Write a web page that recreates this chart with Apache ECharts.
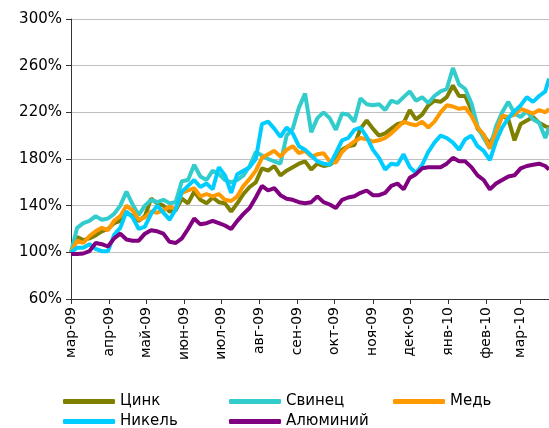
<!DOCTYPE html>
<html>
<head>
<meta charset="utf-8">
<script src="https://cdn.jsdelivr.net/npm/echarts@6/dist/echarts.min.js"></script>
<style>
  html, body { margin: 0; padding: 0; background: #fff; }
  #chart { width: 549px; height: 428px; }
</style>
</head>
<body>
<div id="chart"></div>
<script>
// days since 01.03.2009
const days = [0, 5, 10, 15, 20, 25, 30, 35, 40, 45, 50, 55, 60, 65, 70, 75, 80, 85, 90, 95,
    100, 105, 110, 115, 120, 125, 130, 135, 140, 145, 150, 155, 160, 165, 170, 175, 180, 185, 190, 195,
    200, 205, 210, 215, 220, 225, 230, 235, 240, 245, 250, 255, 260, 265, 270, 275, 280, 285, 290, 295,
    300, 305, 310, 315, 320, 325, 330, 335, 340, 345, 350, 355, 360, 365, 370, 375, 380, 385, 388]

const monthDays = [0, 31, 61, 92, 122, 153, 184, 214, 245, 275, 306, 337, 365]
const monthLabels = ['мар-09', 'апр-09', 'май-09', 'июн-09', 'июл-09', 'авг-09', 'сен-09',
    'окт-09', 'ноя-09', 'дек-09', 'янв-10', 'фев-10', 'мар-10']

const zinc = [100, 113, 110.5, 112, 114.5, 118, 120, 125, 127, 134, 131, 127, 131, 146, 142, 140, 135, 136, 146, 142,
    152, 145, 142, 147, 143, 142, 135, 142, 150, 156, 160, 172, 170, 174, 166, 170, 173, 176, 178, 171,
    176, 174, 175, 179, 188, 191, 192, 206, 213, 206, 200, 202, 206, 210, 211, 222, 214, 218, 226, 230,
    229, 233, 243, 234, 234, 222, 206, 200, 193, 204, 217, 214, 196, 210, 213, 216, 211, 208, 207]
const lead = [100, 121, 125, 127, 131, 128, 129, 133, 140, 152, 141, 132, 140, 145, 143, 145, 142, 143, 161, 162,
    175, 165, 162, 170, 167, 162, 160, 162, 166, 174, 186, 183, 180, 178, 176, 200, 206, 224, 236, 203,
    215, 220, 215, 205, 219, 218, 212, 232, 227, 226, 227, 222, 230, 228, 233, 238, 230, 233, 228, 234,
    238, 240, 258, 244, 240, 228, 208, 198, 189, 208, 220, 229, 219, 216, 221, 214, 211, 198, 207]
const copper = [100, 110, 108, 114, 118, 121, 119, 127, 131, 140, 136, 128, 130, 135, 134, 136, 139, 137, 151, 153,
    155, 148, 150, 148, 150, 145, 144, 148, 157, 163, 170, 181, 184, 187, 182, 188, 191, 185, 187, 182,
    184, 185, 178, 177, 186, 191, 195, 198, 197, 195, 196, 198, 202, 207, 212, 210, 209, 212, 207, 212,
    220, 226, 225, 223, 224, 217, 207, 201, 189, 203, 217, 216, 218, 223, 221, 219, 222, 220, 223]
const nickel = [100, 104, 104, 107, 103, 101, 101, 115, 121, 135, 130, 120, 122, 133, 140, 134, 128, 137, 152, 157,
    162, 156, 159, 154, 173, 166, 151, 167, 170, 173, 180, 210, 212, 206, 199, 207, 202, 191, 188, 183,
    178, 176, 175, 185, 196, 198, 205, 207, 199, 188, 181, 171, 176, 175, 184, 173, 168, 175, 186, 194,
    200, 198, 194, 188, 197, 200, 191, 187, 179, 195, 207, 215, 221, 226, 233, 229, 234, 238, 249]
const aluminium = [98.5, 98.5, 99, 101, 108, 107, 105, 112, 116, 111, 110, 110, 116, 119, 118, 116, 109, 108, 112, 120,
    129, 124, 125, 127, 125, 123, 120, 127, 133, 138, 147, 157, 153, 155, 149, 146, 145, 143, 142, 143,
    148, 143, 141, 138, 145, 147, 148, 151, 153, 149, 149, 151, 157, 159, 154, 164, 167, 172, 173, 173,
    173, 176, 181, 178, 178, 173, 166, 162, 154, 159, 162, 165, 166, 172, 174, 175, 176, 174, 171]

const yTicks = [60, 100, 140, 180, 220, 260, 300]

const seriesList = [
    { name: 'Цинк', values: zinc, color: '#808000' },
    { name: 'Свинец', values: lead, color: '#33CCCC' },
    { name: 'Медь', values: copper, color: '#FF9900' },
    { name: 'Никель', values: nickel, color: '#00CCFF' },
    { name: 'Алюминий', values: aluminium, color: '#800080' },
]

const font = 'DejaVu Sans, Verdana, sans-serif'

// NOTE - one legend per item so the columns line up like in the original
const legendPos = [[63, 394], [229, 394], [393, 394], [63, 414], [229, 414]]
const legends = seriesList.map((s, i) => ({
    left: legendPos[i][0],
    top: legendPos[i][1],
    padding: 0,
    itemWidth: 52,
    itemHeight: 5,
    icon: 'roundRect',
    data: [s.name],
    textStyle: { fontFamily: font, fontSize: 15, color: '#000' },
}))

const myChart = echarts.init(document.querySelector('#chart'))
const option = {
    animation: false,
    grid: { left: 71, right: 0, top: 19, bottom: 129 },
    legend: legends,
    xAxis: {
        type: 'value',
        min: 0,
        max: 388,
        splitLine: { show: false },
        axisLine: { show: true, lineStyle: { color: '#333', width: 1 } },
        axisTick: { show: true, length: 5, customValues: monthDays, lineStyle: { color: '#333' } },
        axisLabel: {
            customValues: monthDays,
            rotate: 90,
            margin: 8,
            fontFamily: font,
            fontSize: 14,
            color: '#000',
            formatter: v => monthLabels[monthDays.indexOf(v)],
        },
    },
    yAxis: {
        type: 'value',
        min: yTicks[0],
        max: yTicks[yTicks.length - 1],
        interval: 40,
        axisLine: { show: true, lineStyle: { color: '#333', width: 1 } },
        axisTick: { show: true, length: 5, lineStyle: { color: '#333' } },
        splitLine: { lineStyle: { color: '#c0c0c0', width: 1 } },
        axisLabel: {
            fontFamily: font,
            fontSize: 15,
            color: '#000',
            margin: 9,
            formatter: '{value}%',
        },
    },
    series: seriesList.map(s => ({
        name: s.name,
        type: 'line',
        data: s.values.map((v, i) => [days[i], v]),
        showSymbol: false,
        color: s.color,
        lineStyle: { width: 4, color: s.color },
    })),
}
myChart.setOption(option)
</script>
</body>
</html>
